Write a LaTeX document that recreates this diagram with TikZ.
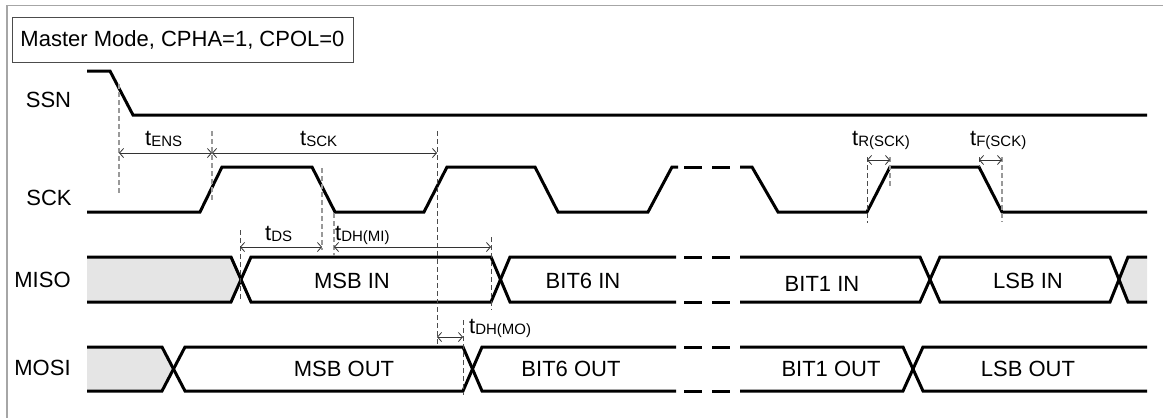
\documentclass[tikz,border=0pt]{standalone}
\usepackage{fontspec}
\setmainfont{Liberation Sans}
\usetikzlibrary{arrows.meta}
\newcommand\tlab[1]{t\raisebox{-1pt}{\fontsize{15}{15}\selectfont #1}}
\begin{document}
\begin{tikzpicture}[x=1pt,y=-1pt,
  sig/.style={line width=3pt,line cap=butt,line join=miter},
  guide/.style={gray!60!black,line width=1pt,dash pattern=on 5pt off 3pt},
  guideg/.style={gray!80,line width=1.8pt,dash pattern=on 5pt off 3pt},
  dim/.style={gray!40!black,line width=0.8pt,{Straight Barb[length=4pt,width=9pt]}-{Straight Barb[length=4pt,width=9pt]}},
  lbl/.style={font=\fontsize{22}{26}\selectfont,inner sep=0pt},
  tlb/.style={font=\fontsize{22}{26}\selectfont,inner sep=0pt,anchor=base west},
  busfill/.style={fill=gray!20,draw=none}]
\useasboundingbox (0,0) rectangle (1163,418);
% frame
\draw[gray!70,line width=1.5pt] (7,418) -- (7,5.5) -- (1163,5.5);
% title
\node[draw=gray!60!black,line width=0.9pt,minimum width=341pt,minimum height=45pt,inner sep=0pt,
  font=\fontsize{22}{26}\selectfont] (title) at (182.5,39.5) {Master Mode, CPHA=1, CPOL=0};
% signal names
\node[lbl] (ssnL) at (48.5,100) {SSN};
\node[lbl] (sckL) at (49,198) {SCK};
\node[lbl] (misoL) at (42.5,280) {MISO};
\node[lbl] (mosiL) at (42.5,368) {MOSI};
% SSN
\draw[sig] (87,71) -- (110,71) -- (133,115) -- (1147,115);
% SCK
\draw[sig] (87,212) -- (200,212) -- (222,167) -- (312,167) -- (335,212) -- (424,212)
  -- (447,167) -- (535,167) -- (558,212) -- (648,212) -- (672,167) -- (678,167);
\draw[sig] (684,167) -- (702,167) (712,167) -- (730,167);
\draw[sig] (740,167) -- (752,167) -- (778,212) -- (867,212) -- (890,167) -- (979,167)
  -- (1002,212) -- (1147,212);
% MISO
\fill[busfill] (87,257) -- (231,257) -- (241,279.5) -- (231,302) -- (87,302) -- cycle;
\fill[busfill] (1119,279.5) -- (1128,257) -- (1147,257) -- (1147,302) -- (1128,302) -- cycle;
\draw[sig] (87,257) -- (231,257) -- (251,302) -- (491,302) -- (510,257) -- (676,257);
\draw[sig] (87,302) -- (231,302) -- (251,257) -- (491,257) -- (510,302) -- (676,302);
\draw[sig] (684,257) -- (702,257) (712,257) -- (730,257) (684,302) -- (702,302) (712,302) -- (730,302);
\draw[sig] (740,257) -- (920,257) -- (940,302) -- (1110,302) -- (1128,257) -- (1147,257);
\draw[sig] (740,302) -- (920,302) -- (940,257) -- (1110,257) -- (1128,302) -- (1147,302);
% MOSI
\fill[busfill] (87,347) -- (162,347) -- (173,369) -- (162,391) -- (87,391) -- cycle;
\draw[sig] (87,347) -- (162,347) -- (185,391) -- (463,391) -- (482,347) -- (676,347);
\draw[sig] (87,391) -- (162,391) -- (185,347) -- (463,347) -- (482,391) -- (676,391);
\draw[sig] (684,347) -- (702,347) (712,347) -- (730,347) (684,391) -- (702,391) (712,391) -- (730,391);
\draw[sig] (740,347) -- (903,347) -- (923,391) -- (1147,391);
\draw[sig] (740,391) -- (903,391) -- (923,347) -- (1147,347);
% data labels
\node[lbl] (msbin) at (352,281) {MSB IN};
\node[lbl] (bit6in) at (583,281) {BIT6 IN};
\node[lbl] (bit1in) at (822,284) {BIT1 IN};
\node[lbl] (lsbin) at (1028,281) {LSB IN};
\node[lbl] (msbout) at (344,369) {MSB OUT};
\node[lbl] (bit6out) at (571,369) {BIT6 OUT};
\node[lbl] (bit1out) at (831,369) {BIT1 OUT};
\node[lbl] (lsbout) at (1028,369) {LSB OUT};
% guide lines
\coordinate (g1t) at (119,84);   \coordinate (g1b) at (119,193);
\coordinate (g2t) at (212,131);  \coordinate (g2b) at (212,202);
\coordinate (g3t) at (437,131);  \coordinate (g3b) at (437,345);
\coordinate (g4t) at (322,168);  \coordinate (g4b) at (322,250);
\coordinate (g5t) at (334,213);  \coordinate (g5b) at (334,256);
\coordinate (g6t) at (240,230);  \coordinate (g6b) at (240,300);
\coordinate (g7t) at (491,237);  \coordinate (g7b) at (491,310);
\coordinate (g8t) at (463,320);  \coordinate (g8b) at (463,395);
\coordinate (g9t) at (867,157);  \coordinate (g9b) at (867,223);
\coordinate (g10t) at (890,157); \coordinate (g10b) at (890,187);
\coordinate (g11t) at (979,157); \coordinate (g11b) at (979,167);
\coordinate (g12t) at (1002,157);\coordinate (g12b) at (1002,222);
\draw[guideg] (g1t) -- (g1b);
\draw[guideg] (g2t) -- (g2b);
\draw[guide] (g3t) -- (g3b);
\draw[guideg] (g4t) -- (g4b);
\draw[guideg] (g5t) -- (g5b);
\draw[guide] (g6t) -- (g6b);
\draw[guide] (g7t) -- (g7b);
\draw[guide] (g8t) -- (g8b);
\draw[guide] (g9t) -- (g9b);
\draw[guideg] (g10t) -- (g10b);
\draw[guide] (g11t) -- (g11b);
\draw[guideg] (g12t) -- (g12b);
% dimension arrows
\coordinate (aens1) at (119,153); \coordinate (aens2) at (212,153);
\coordinate (asck2) at (437,153);
\coordinate (ads1) at (240,247); \coordinate (ads2) at (322,247);
\coordinate (ami1) at (334,247); \coordinate (ami2) at (491,247);
\coordinate (amo1) at (437,337); \coordinate (amo2) at (463,337);
\coordinate (ar1) at (867,160); \coordinate (ar2) at (890,160);
\coordinate (af1) at (979,160); \coordinate (af2) at (1002,160);
\draw[dim] (aens1) -- (aens2);
\draw[dim] (aens2) -- (asck2);
\draw[dim] (ads1) -- (ads2);
\draw[dim] (ami1) -- (ami2);
\draw[dim] (amo1) -- (amo2);
\draw[dim] (ar1) -- (ar2);
\draw[dim] (af1) -- (af2);
% timing labels
\node[tlb] (tens) at (145,145) {\tlab{ENS}};
\node[tlb] (tsck) at (300,145) {\tlab{SCK}};
\node[tlb] (tr) at (852,145) {\tlab{R(SCK)}};
\node[tlb] (tf) at (970,145) {\tlab{F(SCK)}};
\node[tlb] (tds) at (265,240) {\tlab{DS}};
\node[tlb] (tdhmi) at (335,240) {\tlab{DH(MI)}};
\node[tlb] (tdhmo) at (469,333) {\tlab{DH(MO)}};
\end{tikzpicture}
\end{document}
